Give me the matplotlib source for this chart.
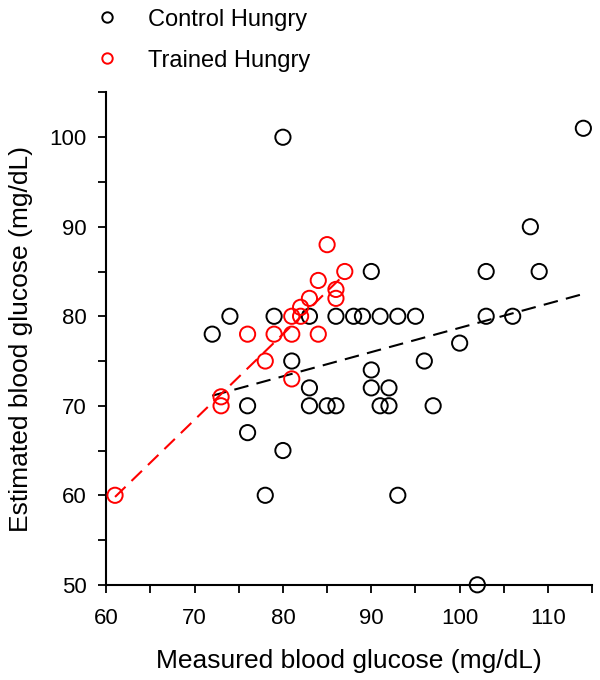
import matplotlib
matplotlib.use("Agg")
import matplotlib.pyplot as plt
from matplotlib.lines import Line2D
from matplotlib.ticker import MultipleLocator
import numpy as np

# Control Hungry (measured, estimated)
control_x = [72, 74, 76, 76, 78, 79, 80, 80, 81, 83, 83, 83, 85, 86, 86, 88, 89,
             90, 90, 90, 91, 91, 92, 92, 93, 93, 95, 96, 97, 100, 102, 103, 103,
             106, 108, 109, 114]
control_y = [78, 80, 70, 67, 60, 80, 100, 65, 75, 80, 72, 70, 70, 80, 70, 80, 80,
             85, 74, 72, 80, 70, 72, 70, 80, 60, 80, 75, 70, 77, 50, 85, 80,
             80, 90, 85, 101]

# Trained Hungry
trained_x = [61, 73, 73, 76, 78, 79, 81, 82, 81, 81, 82, 83, 84, 84, 85, 86, 86, 87]
trained_y = [60, 71, 70, 78, 75, 78, 80, 80, 78, 73, 81, 82, 84, 78, 88, 83, 82, 85]

labels = ["Control Hungry", "Trained Hungry"]
colors = ["black", "#ff0000"]

plt.rcParams["font.family"] = ["Liberation Sans", "DejaVu Sans"]

fig = plt.figure(figsize=(6, 6.8), dpi=100)
ax = fig.add_axes([0.177, 0.14, 0.81, 0.724])

groups = [(control_x, control_y), (trained_x, trained_y)]
for (xs, ys), col in zip(groups, colors):
    xs = np.array(xs, dtype=float)
    ys = np.array(ys, dtype=float)
    # least squares line over the range of each group
    k, b = np.polyfit(xs, ys, 1)
    lx = np.array([xs.min(), xs.max()])
    ax.plot(lx, k * lx + b, color=col, lw=1.5, dashes=(7, 4), zorder=2,
            clip_on=False)
    ax.scatter(xs, ys, s=120, facecolors="none", edgecolors=col,
               linewidths=1.4, zorder=3, clip_on=False)

ax.set_xlim(60, 115)
ax.set_ylim(50, 105)
ax.xaxis.set_minor_locator(MultipleLocator(5))
ax.yaxis.set_major_locator(MultipleLocator(10))
ax.yaxis.set_minor_locator(MultipleLocator(5))
ax.set_xticks([60, 70, 80, 90, 100, 110])
ax.tick_params(which="both", direction="out", length=6, width=1.3,
               labelsize=16)
ax.tick_params(axis="x", pad=11)
ax.tick_params(axis="y", pad=8)
for s in ["top", "right"]:
    ax.spines[s].set_visible(False)
for s in ["left", "bottom"]:
    ax.spines[s].set_linewidth(1.5)

ax.set_xlabel("Measured blood glucose (mg/dL)", fontsize=19, labelpad=14)
ax.set_ylabel("Estimated blood glucose (mg/dL)", fontsize=19, labelpad=12)

handles = [Line2D([], [], ls="none", marker="o", ms=7.5, mfc="none",
                  mec=c, mew=1.4) for c in colors]
fig.legend(handles, labels, loc="upper left", bbox_to_anchor=(0.135, 1.008),
           frameon=False, fontsize=17, handlelength=1.0, handletextpad=1.25,
           labelspacing=0.8, borderaxespad=0.2)

fig.savefig("out.png", dpi=100)
